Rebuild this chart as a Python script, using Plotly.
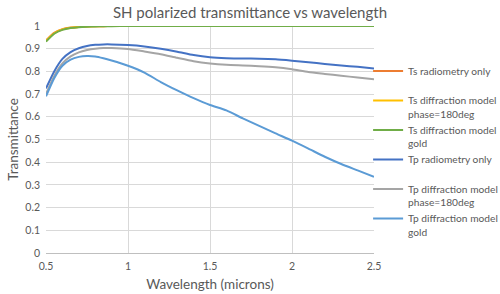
import plotly.graph_objects as go

wavelength = [0.5, 0.55, 0.6, 0.65, 0.7, 0.75, 0.8, 0.85, 0.9, 1.0, 1.1, 1.2, 1.3,
              1.4, 1.5, 1.6, 1.7, 1.8, 1.9, 2.0, 2.1, 2.2, 2.3, 2.4, 2.5]

ts_radiometry = [0.937, 0.970, 0.986, 0.993, 0.996, 0.998, 0.999, 0.999, 1.0, 1.0, 1.0, 1.0, 1.0,
                 1.0, 1.0, 1.0, 1.0, 1.0, 1.0, 1.0, 1.0, 1.0, 1.0, 1.0, 1.0]
ts_phase180 = [0.934, 0.968, 0.985, 0.992, 0.996, 0.998, 0.999, 0.999, 1.0, 1.0, 1.0, 1.0, 1.0,
               1.0, 1.0, 1.0, 1.0, 1.0, 1.0, 1.0, 1.0, 1.0, 1.0, 1.0, 1.0]
ts_gold = [0.931, 0.966, 0.983, 0.991, 0.995, 0.997, 0.998, 0.999, 0.999, 1.0, 1.0, 1.0, 1.0,
           1.0, 1.0, 1.0, 1.0, 1.0, 1.0, 1.0, 1.0, 1.0, 1.0, 1.0, 1.0]

tp_radiometry = [0.725, 0.800, 0.855, 0.885, 0.902, 0.912, 0.917, 0.919, 0.919, 0.916, 0.910, 0.900, 0.887,
                 0.872, 0.862, 0.858, 0.857, 0.856, 0.853, 0.847, 0.840, 0.833, 0.826, 0.820, 0.813]
tp_phase180 = [0.700, 0.780, 0.835, 0.866, 0.884, 0.894, 0.900, 0.903, 0.903, 0.899, 0.888, 0.876, 0.860,
               0.845, 0.835, 0.829, 0.826, 0.823, 0.818, 0.809, 0.797, 0.789, 0.781, 0.773, 0.765]
tp_gold = [0.690, 0.770, 0.825, 0.852, 0.864, 0.868, 0.866, 0.858, 0.848, 0.825, 0.795, 0.753, 0.716,
           0.682, 0.652, 0.628, 0.593, 0.560, 0.527, 0.495, 0.460, 0.424, 0.392, 0.364, 0.336]

series_names = [
    "Ts radiometry only<br> ",
    "Ts diffraction model<br>phase=180deg",
    "Ts diffraction model<br>gold",
    "Tp radiometry only<br> ",
    "Tp diffraction model<br>phase=180deg",
    "Tp diffraction model<br>gold",
]
series_values = [ts_radiometry, ts_phase180, ts_gold, tp_radiometry, tp_phase180, tp_gold]
series_colors = ["#ED7D31", "#FFC000", "#70AD47", "#4472C4", "#A5A5A5", "#5B9BD5"]

x_ticks = [0.5, 1, 1.5, 2, 2.5]
y_ticks = [0, 0.1, 0.2, 0.3, 0.4, 0.5, 0.6, 0.7, 0.8, 0.9, 1]

font_family = "Lato, Open Sans, sans-serif"
grey_text = "#595959"

fig = go.Figure()
for name, vals, col in zip(series_names, series_values, series_colors):
    fig.add_trace(go.Scatter(x=wavelength, y=vals, mode="lines", name=name,
                             line=dict(color=col, width=2, shape="spline", smoothing=0.6)))

fig.update_layout(
    width=500, height=294,
    margin=dict(l=46, r=126, t=26, b=41, autoexpand=False),
    paper_bgcolor="white", plot_bgcolor="white",
    font=dict(family=font_family, color=grey_text, size=11),
    title=dict(text="SH polarized transmittance vs wavelength", x=0.5, xanchor="center",
               y=0.957, yanchor="middle", xref="container",
               font=dict(size=15, color=grey_text, family=font_family)),
    showlegend=True,
    legend=dict(x=0.982, xanchor="left", y=0.86, yanchor="top", valign="top",
                font=dict(size=10.2, color=grey_text, family=font_family),
                itemwidth=30, tracegroupgap=0, bgcolor="rgba(0,0,0,0)"),
    xaxis=dict(range=[0.5, 2.5], tickvals=x_ticks, ticktext=[str(v) for v in x_ticks],
               showgrid=True, gridcolor="#D9D9D9", gridwidth=1, zeroline=False,
               showline=True, linecolor="#BFBFBF", linewidth=1, automargin=False,
               ticks="", ticklabelstandoff=3, tickfont=dict(size=10.5, color=grey_text),
               title=dict(text="Wavelength (microns)", font=dict(size=13.5, color=grey_text),
                          standoff=8)),
    yaxis=dict(range=[0, 1], tickvals=y_ticks, ticktext=[str(v) for v in y_ticks],
               showgrid=True, gridcolor="#D9D9D9", gridwidth=1, zeroline=False, automargin=False,
               showline=False, ticks="", ticklabelstandoff=5, tickfont=dict(size=10.5, color=grey_text),
               title=dict(text="Transmittance", font=dict(size=13.5, color=grey_text),
                          standoff=3)),
)

fig.write_html("out.html", config={"displayModeBar": False},
               post_script="document.body.style.margin='0';")
